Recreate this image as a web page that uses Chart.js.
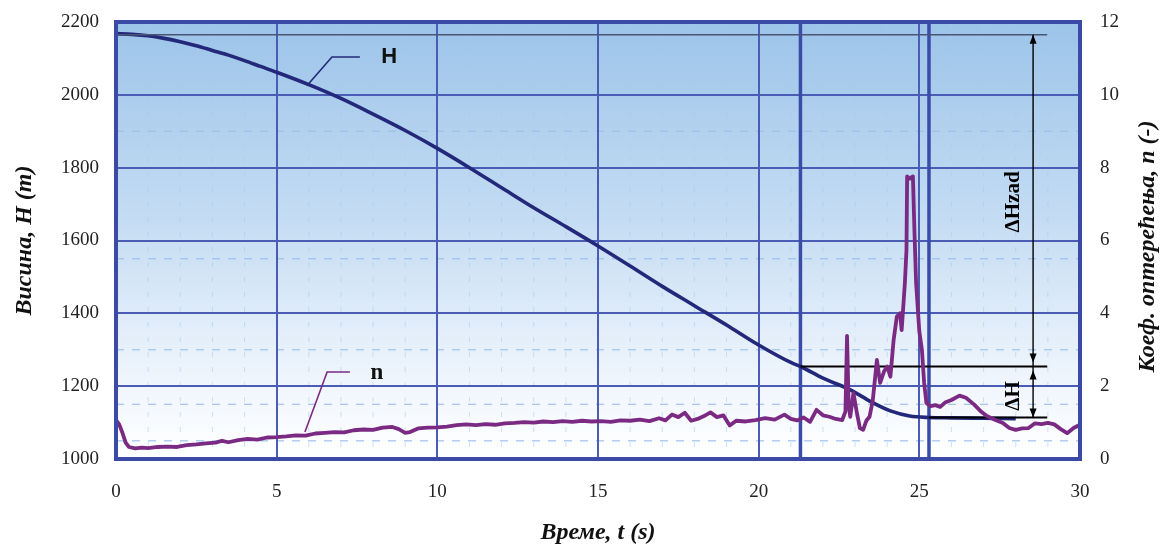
<!DOCTYPE html>
<html>
<head>
<meta charset="utf-8">
<script src="https://cdn.jsdelivr.net/npm/chart.js@4.4.1/dist/chart.umd.min.js"></script>
<style>
    html, body { margin: 0; padding: 0; background: #ffffff; }
    #wrap { width: 1168px; height: 549px; }
</style>
</head>
<body>
<div id="wrap"><canvas id="chart" width="1168" height="549"></canvas></div>
<script>
// тикови на осама
const timeTicks = [0, 5, 10, 15, 20, 25, 30];
const heightTicks = [1000, 1200, 1400, 1600, 1800, 2000, 2200];
const coefTicks = [0, 2, 4, 6, 8, 10, 12];

// помоћне (испрекидане) линије мреже
const minorTimeLines = [1, 2, 3, 4, 6, 7, 8, 9, 11, 12, 13, 14, 16, 17, 18, 19, 21, 22, 23, 24, 26, 27, 28, 29];
const minorHeightLines = [1050, 1150, 1300, 1550, 1900];

// висина H (m)
const timeH = [0, 0.5, 1, 1.5, 2, 2.5, 3, 3.5, 4, 4.5, 5, 6, 7, 8, 9, 10, 11, 12, 13, 14, 15, 16, 17, 18, 19, 20, 21, 21.3, 22, 22.85, 23.5, 24.1, 24.7, 25.3, 26, 27, 28];
const heightH = [2168, 2166, 2162, 2155, 2146, 2135, 2122, 2109, 2094, 2078, 2062, 2028, 1990, 1947, 1902, 1853, 1800, 1745, 1690, 1638, 1585, 1530, 1474, 1421, 1368, 1313, 1265, 1254, 1222, 1190, 1157, 1132, 1118, 1114, 1113, 1112, 1111];

// коефицијент оптерећења n (-)
const timeN = [0.00, 0.10, 0.20, 0.30, 0.40, 0.60, 0.80, 1.00, 1.30, 1.60, 1.90, 2.20, 2.50, 2.80, 3.10, 3.30, 3.50, 3.80, 4.10, 4.40,
    4.70, 5.00, 5.30, 5.60, 5.90, 6.20, 6.50, 6.80, 7.10, 7.40, 7.70, 8.00, 8.30, 8.60, 8.80, 9.00, 9.15, 9.40, 9.70, 10.00,
    10.30, 10.60, 10.90, 11.20, 11.50, 11.80, 12.10, 12.40, 12.70, 13.00, 13.30, 13.60, 13.90, 14.20, 14.50, 14.80, 15.10, 15.40, 15.70, 16.00,
    16.30, 16.60, 16.90, 17.10, 17.30, 17.50, 17.70, 17.90, 18.10, 18.30, 18.50, 18.70, 18.90, 19.10, 19.30, 19.60, 19.90, 20.20, 20.50, 20.80,
    21.00, 21.20, 21.40, 21.60, 21.80, 22.00, 22.20, 22.40, 22.60, 22.70, 22.75, 22.80, 22.85, 22.95, 23.05, 23.15, 23.25, 23.35, 23.45, 23.55,
    23.68, 23.78, 23.90, 24.00, 24.10, 24.20, 24.30, 24.40, 24.45, 24.55, 24.60, 24.62, 24.70, 24.80, 24.85, 24.90, 25.00, 25.08, 25.15, 25.22,
    25.35, 25.50, 25.65, 25.80, 26.00, 26.25, 26.45, 26.70, 26.90, 27.10, 27.35, 27.60, 27.80, 28.00, 28.20, 28.40, 28.60, 28.80, 29.00, 29.20,
    29.40, 29.60, 29.80, 30.00];
const coefN = [1.07, 0.95, 0.72, 0.45, 0.33, 0.29, 0.31, 0.30, 0.33, 0.34, 0.33, 0.38, 0.40, 0.43, 0.45, 0.50, 0.46, 0.52, 0.55, 0.53,
    0.59, 0.60, 0.62, 0.65, 0.64, 0.70, 0.72, 0.74, 0.73, 0.79, 0.81, 0.80, 0.86, 0.88, 0.82, 0.72, 0.74, 0.84, 0.86, 0.87,
    0.89, 0.93, 0.95, 0.93, 0.96, 0.94, 0.98, 0.99, 1.01, 1.00, 1.03, 1.01, 1.04, 1.02, 1.05, 1.03, 1.04, 1.02, 1.06, 1.05,
    1.08, 1.04, 1.12, 1.06, 1.22, 1.15, 1.27, 1.05, 1.10, 1.18, 1.28, 1.15, 1.20, 0.92, 1.05, 1.03, 1.07, 1.12, 1.08, 1.22,
    1.10, 1.06, 1.14, 1.02, 1.35, 1.20, 1.16, 1.10, 1.07, 1.30, 3.38, 1.50, 1.16, 1.81, 1.30, 0.85, 0.80, 1.05, 1.16, 1.60,
    2.72, 2.09, 2.40, 2.54, 2.26, 3.27, 3.91, 4.00, 3.54, 4.83, 5.74, 7.76, 7.70, 7.76, 6.20, 4.83, 3.50, 3.00, 2.09, 1.54,
    1.45, 1.48, 1.43, 1.55, 1.62, 1.74, 1.68, 1.50, 1.32, 1.18, 1.08, 0.99, 0.85, 0.80, 0.84, 0.85, 0.98, 0.96, 0.99, 0.95,
    0.82, 0.71, 0.85, 0.94];

const gridColor = "#4a5cb6";
const tickFont = { family: "Liberation Serif", size: 19 };
const titleFont = { family: "Liberation Serif", size: 24, weight: "bold", style: "italic", lineHeight: 1.2 };
const plainLabel = v => String(v);

function line(ctx, x1, y1, x2, y2) {
    ctx.beginPath();
    ctx.moveTo(x1, y1);
    ctx.lineTo(x2, y2);
    ctx.stroke();
}

function arrowHead(ctx, x, y, dir) {
    // dir = -1 горе, 1 доле
    ctx.beginPath();
    ctx.moveTo(x, y);
    ctx.lineTo(x - 3.5, y - dir * 9);
    ctx.lineTo(x + 3.5, y - dir * 9);
    ctx.closePath();
    ctx.fill();
}

const decorPlugin = {
    id: "decor",
    beforeDraw(chart) {
        const { ctx, chartArea: a, scales } = chart;
        ctx.save();
        const g = ctx.createLinearGradient(0, a.top, 0, a.bottom);
        g.addColorStop(0, "#9cc4e9");
        g.addColorStop(0.45, "#c4dcf3");
        g.addColorStop(0.8, "#edf4fc");
        g.addColorStop(1, "#ffffff");
        ctx.fillStyle = g;
        ctx.fillRect(a.left, a.top, a.right - a.left, a.bottom - a.top);

        ctx.strokeStyle = "rgba(150,190,232,0.85)";
        ctx.lineWidth = 1.3;
        ctx.setLineDash([8, 8]);
        minorHeightLines.forEach(v => {
            const y = scales.yH.getPixelForValue(v);
            line(ctx, a.left, y, a.right, y);
        });
        ctx.strokeStyle = "rgba(170,200,235,0.55)";
        ctx.lineWidth = 1;
        ctx.setLineDash([5, 10]);
        minorTimeLines.forEach(v => {
            const x = scales.x.getPixelForValue(v);
            line(ctx, x, a.top, x, a.bottom);
        });
        ctx.restore();
    },
    beforeDatasetsDraw(chart) {
        const { ctx, chartArea: a, scales } = chart;
        ctx.save();
        ctx.strokeStyle = "#3b4ca8";
        ctx.lineWidth = 3.5;
        [21.3, 25.3].forEach(t => {
            const x = scales.x.getPixelForValue(t);
            line(ctx, x, a.top, x, a.bottom);
        });
        ctx.restore();
    },
    afterDatasetDraw(chart, args) {
        if (args.index !== 1) return;
        const { ctx, scales } = chart;
        const px = t => scales.x.getPixelForValue(t);
        const py = h => scales.yH.getPixelForValue(h);
        ctx.save();
        // горња референтна линија
        ctx.strokeStyle = "#4a5575";
        ctx.lineWidth = 1.3;
        line(ctx, px(0), py(2165), px(28.98), py(2165));
        ctx.strokeStyle = "#000000";
        ctx.lineWidth = 1.8;
        line(ctx, px(21.3), py(1254), px(28.98), py(1254));
        line(ctx, px(25.3), py(1114), px(28.98), py(1114));

        // стрелице
        const ax = px(28.54);
        ctx.lineWidth = 1.4;
        ctx.fillStyle = "#000000";
        line(ctx, ax, py(2165), ax, py(1254));
        arrowHead(ctx, ax, py(2165), -1);
        arrowHead(ctx, ax, py(1254) - 4, 1);
        line(ctx, ax, py(1254), ax, py(1114));
        arrowHead(ctx, ax, py(1254) + 4, -1);
        arrowHead(ctx, ax, py(1114), 1);

        ctx.font = "bold 21px 'Liberation Serif'";
        ctx.textAlign = "center";
        ctx.textBaseline = "middle";
        [["ΔHzad", 1706], ["ΔH", 1173]].forEach(([txt, h]) => {
            ctx.save();
            ctx.translate(px(27.92), py(h));
            ctx.rotate(-Math.PI / 2);
            ctx.fillText(txt, 0, 0);
            ctx.restore();
        });
        ctx.restore();
    },
    afterDraw(chart) {
        const { ctx, chartArea: a, scales } = chart;
        const px = t => scales.x.getPixelForValue(t);
        ctx.save();
        ctx.strokeStyle = "#3a4aa6";
        ctx.lineWidth = 4;
        ctx.strokeRect(a.left, a.top, a.right - a.left, a.bottom - a.top);

        // ознака H
        const ph = h => scales.yH.getPixelForValue(h);
        ctx.strokeStyle = "#23287a";
        ctx.lineWidth = 1.6;
        ctx.beginPath();
        ctx.moveTo(px(5.94), ph(2025));
        ctx.lineTo(px(6.72), ph(2104));
        ctx.lineTo(px(7.59), ph(2104));
        ctx.stroke();
        ctx.fillStyle = "#111111";
        ctx.font = "bold 22px 'Liberation Sans'";
        ctx.textAlign = "center";
        ctx.textBaseline = "middle";
        ctx.fillText("H", px(8.5), ph(2104));

        // ознака n
        const pn = n => scales.yN.getPixelForValue(n);
        ctx.strokeStyle = "#7b2a84";
        ctx.beginPath();
        ctx.moveTo(px(5.88), pn(0.74));
        ctx.lineTo(px(6.57), pn(2.39));
        ctx.lineTo(px(7.28), pn(2.39));
        ctx.stroke();
        ctx.font = "bold 23px 'Liberation Serif'";
        ctx.fillText("n", px(8.12), pn(2.39) + 1);

        // наслов десне осе
        ctx.fillStyle = "#111111";
        ctx.font = "italic bold 24px 'Liberation Serif'";
        ctx.translate(a.right + 68, (a.top + a.bottom) / 2 + 6);
        ctx.rotate(-Math.PI / 2);
        ctx.fillText("Коеф. оптерећења, n (-)", 0, 0);
        ctx.restore();
    }
};

// фиксна ширина осе, без додатног размака горе/доле
function fixWidth(w) {
    return s => {
        s.width = w;
        s.paddingTop = 0;
        s.paddingBottom = 0;
    };
}

const ctx = document.getElementById("chart").getContext("2d");
new Chart(ctx, {
    type: "line",
    data: {
        datasets: [
            {
                label: "n",
                data: timeN.map((t, i) => ({ x: t, y: coefN[i] })),
                yAxisID: "yN",
                borderColor: "#7b2a84",
                borderWidth: 3.8,
                borderJoinStyle: "round",
                pointRadius: 0,
                tension: 0
            },
            {
                label: "H",
                data: timeH.map((t, i) => ({ x: t, y: heightH[i] })),
                yAxisID: "yH",
                borderColor: "#23287a",
                borderWidth: 3.6,
                pointRadius: 0,
                cubicInterpolationMode: "monotone"
            }
        ]
    },
    options: {
        responsive: false,
        animation: false,
        devicePixelRatio: 1,
        layout: { padding: { top: 22, left: 0, right: 0, bottom: 0 } },
        plugins: { legend: { display: false }, tooltip: { enabled: false } },
        scales: {
            x: {
                type: "linear",
                position: "bottom",
                min: timeTicks[0],
                max: timeTicks[timeTicks.length - 1],
                afterBuildTicks: s => { s.ticks = timeTicks.map(v => ({ value: v })); },
                afterFit: s => { s.height = 90; s.paddingLeft = 0; s.paddingRight = 0; },
                grid: { color: gridColor, lineWidth: 2, drawTicks: false },
                border: { display: false },
                ticks: { font: tickFont, color: "#222", padding: 22, autoSkip: false, maxRotation: 0, callback: plainLabel },
                title: { display: true, text: "Време, t (s)", font: titleFont, color: "#111", padding: { top: 0, bottom: 2 } }
            },
            yH: {
                position: "left",
                min: heightTicks[0],
                max: heightTicks[heightTicks.length - 1],
                afterBuildTicks: s => { s.ticks = heightTicks.map(v => ({ value: v })); },
                afterFit: fixWidth(116),
                grid: { color: gridColor, lineWidth: 2, drawTicks: false },
                border: { display: false },
                ticks: { font: tickFont, color: "#222", padding: 17, callback: plainLabel },
                title: { display: true, text: "Висина, H (m)", font: titleFont, color: "#111", padding: { top: 10, bottom: 0 } }
            },
            yN: {
                position: "right",
                min: coefTicks[0],
                max: coefTicks[coefTicks.length - 1],
                afterBuildTicks: s => { s.ticks = coefTicks.map(v => ({ value: v })); },
                afterFit: fixWidth(88),
                grid: { display: false, drawTicks: false },
                border: { display: false },
                ticks: { font: tickFont, color: "#222", padding: 20, callback: plainLabel }
            }
        }
    },
    plugins: [decorPlugin]
});
</script>
</body>
</html>
